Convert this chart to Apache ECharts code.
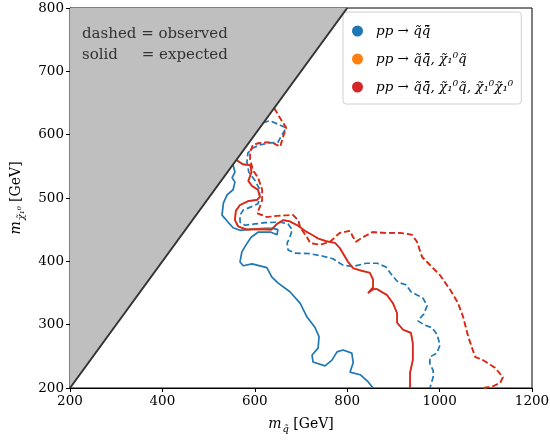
<!DOCTYPE html>
<html><head><meta charset="utf-8">
<script src="https://cdn.jsdelivr.net/npm/echarts@6/dist/echarts.min.js"></script>
<style>html,body{margin:0;padding:0;background:#fff}#c{width:550px;height:443px}</style>
</head><body><div id="c"></div>
<script>
const xTicks = [200, 400, 600, 800, 1000, 1200];
const yTicks = [200, 300, 400, 500, 600, 700, 800];
const seriesNames = ['pp → q̃q̃̄', 'pp → q̃q̃̄, χ̃₁⁰q̃', 'pp → q̃q̃̄, χ̃₁⁰q̃, χ̃₁⁰χ̃₁⁰'];
const kinematicEdge = [[200, 200], [800, 800]];

const blueExpected = [[553,552],[557,541],[551,532],[557,525],[553,513],[540,505],[532,492],[529,473],[542,462],[553,453],[568,449],[594,451],[622,452],[639,452],[650,450],[648,442],[635,446],[607,446],[592,438],[581,426],[572,415],[568,399],[575,393],[594,396],[626,390],[637,375],[650,366],[676,352],[698,334],[713,312],[730,296],[739,281],[737,263],[724,252],[726,241],[752,235],[767,244],[778,257],[791,260],[810,255],[813,240],[806,225],[828,221],[845,210],[856,200]];
const blueObserved = [[618,619],[633,622],[655,615],[668,611],[659,600],[650,588],[633,587],[611,584],[596,579],[585,571],[583,557],[587,541],[600,528],[609,516],[611,502],[607,491],[592,486],[575,481],[568,473],[568,462],[579,457],[600,459],[622,461],[655,462],[672,459],[681,450],[676,438],[670,429],[672,418],[687,413],[720,412],[748,408],[769,404],[791,394],[813,392],[841,397],[865,397],[884,391],[897,378],[910,367],[927,363],[938,352],[951,347],[964,342],[973,330],[966,317],[953,306],[966,300],[984,295],[994,285],[1001,268],[994,255],[979,249],[979,238],[986,228],[986,217],[979,200]];
const redExpected = [[560,560],[575,553],[590,552],[593,541],[586,527],[594,519],[607,513],[611,502],[605,497],[585,495],[568,489],[559,480],[557,465],[564,455],[583,450],[607,451],[636,450],[648,459],[661,465],[676,463],[694,456],[709,448],[726,441],[737,436],[754,432],[774,429],[784,421],[793,410],[802,399],[813,389],[832,385],[849,382],[856,371],[856,359],[845,350],[856,356],[865,356],[886,347],[899,334],[908,318],[908,303],[921,292],[938,287],[942,271],[942,244],[936,224],[936,200]];
const redObserved = [[642,642],[655,626],[668,611],[661,596],[655,581],[639,587],[626,588],[611,587],[596,584],[590,573],[590,560],[596,544],[607,532],[616,513],[616,497],[611,486],[605,476],[626,470],[650,472],[683,473],[694,465],[698,454],[713,438],[720,429],[741,426],[763,431],[784,445],[806,448],[813,438],[819,431],[834,438],[854,446],[886,445],[914,445],[940,442],[951,431],[962,407],[1001,378],[1023,355],[1040,334],[1051,312],[1062,281],[1077,249],[1094,244],[1120,232],[1137,217],[1131,208],[1113,202],[1094,200]];
const orangeExpected = redExpected;
const orangeObserved = redObserved;

const colors = ['#1f77b4', '#ff7f0e', '#d62728'];
const FONT = 'DejaVu Serif';

function curve(name, data, color, dashed) {
  return {
    type: 'line', name: name, data: data, showSymbol: false, symbol: 'none',
    animation: false, silent: true, z: 3,
    lineStyle: { color: color, width: 1.7, type: dashed ? [6, 3] : 'solid' },
    itemStyle: { color: color }
  };
}

const richName = (subSize) => ({
  m: { fontFamily: FONT, fontStyle: 'italic', fontSize: 14, color: '#000', verticalAlign: 'top' },
  s: { fontFamily: FONT, fontStyle: 'italic', fontSize: subSize, color: '#000', padding: [7, 1, 0, 1], verticalAlign: 'top' },
  t: { fontFamily: FONT, fontSize: 14, color: '#000', verticalAlign: 'top' }
});

const chart = echarts.init(document.getElementById('c'), null, { renderer: 'canvas' });
chart.setOption({
  animation: false,
  grid: { left: 70, right: 18, top: 8, bottom: 55, show: true, borderColor: '#000', borderWidth: 1,
          backgroundColor: 'transparent', containLabel: false, outerBoundsMode: 'none' },
  xAxis: {
    type: 'value', min: xTicks[0], max: xTicks[xTicks.length - 1], interval: 200,
    axisLine: { show: true, lineStyle: { color: '#000', width: 1 } },
    axisTick: { show: true, length: 4, lineStyle: { color: '#000' } },
    axisLabel: { color: '#000', fontFamily: FONT, fontSize: 13.5, margin: 6, formatter: v => String(v) },
    splitLine: { show: false },
    name: '{m|m}{s|q̃} {t|[GeV]}', nameLocation: 'middle', nameGap: 29,
    nameTextStyle: { rich: richName(10) }
  },
  yAxis: {
    type: 'value', min: yTicks[0], max: yTicks[yTicks.length - 1], interval: 100,
    axisLine: { show: true, lineStyle: { color: '#000', width: 1 } },
    axisTick: { show: true, length: 4, lineStyle: { color: '#000' } },
    axisLabel: { color: '#000', fontFamily: FONT, fontSize: 13.5, margin: 6, formatter: v => String(v) },
    splitLine: { show: false },
    name: '{m|m}{s|χ̃₁⁰} {t|[GeV]}', nameLocation: 'middle', nameGap: 44, nameRotate: 90,
    nameTextStyle: { rich: richName(10) }
  },
  legend: {
    data: seriesNames.map(n => ({ name: n, icon: 'circle' })),
    orient: 'vertical', left: 343, top: 12,
    itemWidth: 11, itemHeight: 11, itemGap: 14,
    padding: [12, 8, 10, 9],
    backgroundColor: '#fff', borderColor: '#d0d0d0', borderWidth: 1, borderRadius: 3,
    textStyle: { fontFamily: FONT, fontStyle: 'italic', fontSize: 13.5, color: '#000', padding: [0, 0, 0, 8] },
    selectedMode: false
  },
  graphic: [
    { type: 'text', left: 82, top: 27, style: { text: 'dashed = observed', font: '15px "DejaVu Serif"', fill: '#333' }, z: 10 },
    { type: 'text', left: 82, top: 48, style: { text: 'solid     = expected', font: '15px "DejaVu Serif"', fill: '#333' }, z: 10 }
  ],
  series: [
    { type: 'line', name: 'edge', data: kinematicEdge, showSymbol: false, symbol: 'none', silent: true, z: 5,
      lineStyle: { color: '#333', width: 2 }, areaStyle: { origin: 'end', color: '#bfbfbf', opacity: 1 } },
    curve(seriesNames[0], blueExpected, colors[0], false),
    curve(seriesNames[0], blueObserved, colors[0], true),
    curve(seriesNames[1], orangeExpected, colors[1], false),
    curve(seriesNames[1], orangeObserved, colors[1], true),
    curve(seriesNames[2], redExpected, colors[2], false),
    curve(seriesNames[2], redObserved, colors[2], true)
  ]
});
</script></body></html>
